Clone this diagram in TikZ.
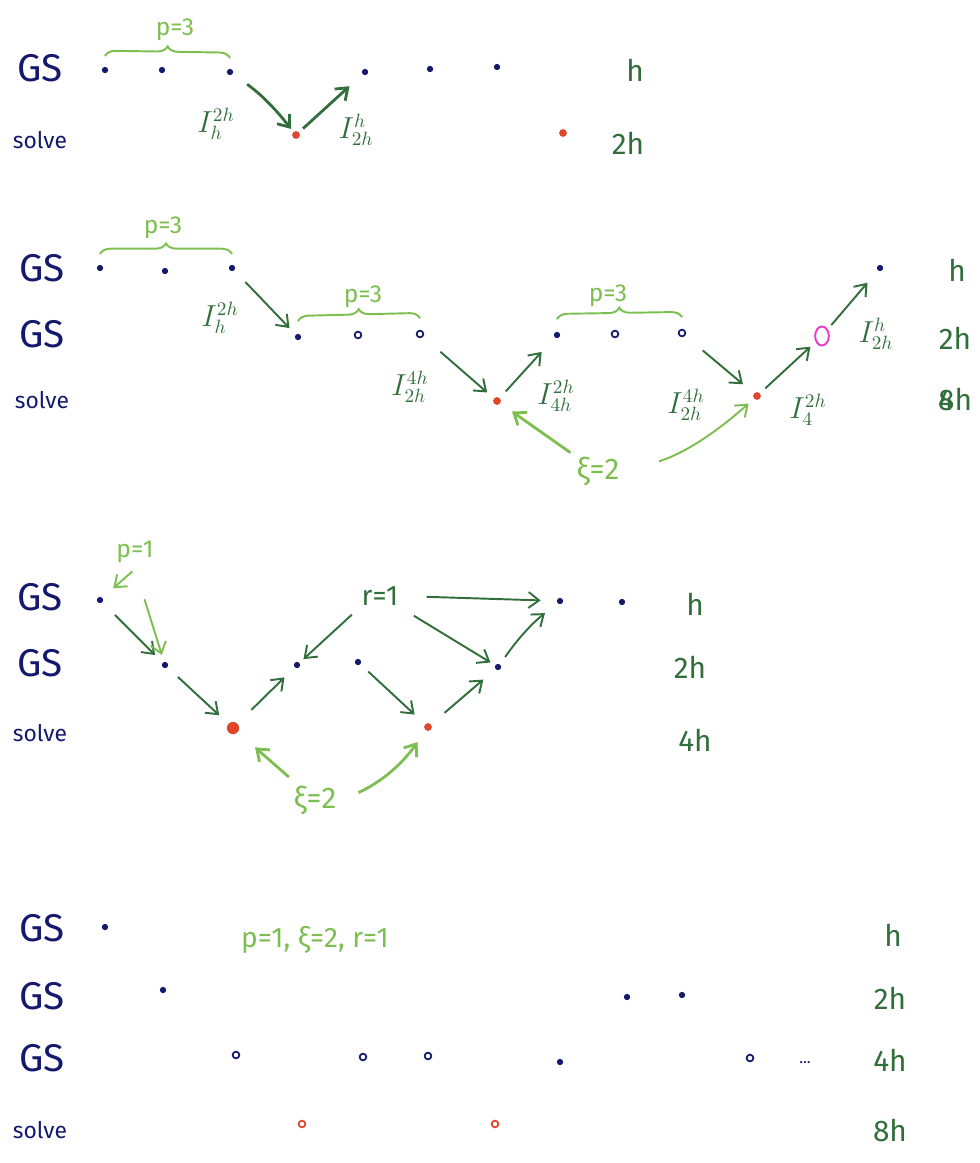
\documentclass[tikz,border=0pt]{standalone}
\usepackage{fontspec}
\setmainfont{Fira Sans}
\usepackage{tikz}
\usetikzlibrary{arrows.meta, positioning, shapes.geometric, decorations.pathreplacing}
\definecolor{gsnavy}{RGB}{20,25,110}
\definecolor{solvered}{RGB}{225,70,45}
\definecolor{opgreen}{RGB}{50,110,60}
\definecolor{parmgreen}{RGB}{125,190,80}
\definecolor{coarsepink}{RGB}{230,60,200}

\begin{document}
\begin{tikzpicture}[
    x=0.02cm, y=-0.02cm,
    lvl/.style={font=\fontsize{22}{22}\selectfont, text=gsnavy},
    slv/.style={font=\fontsize{13}{13}\selectfont, text=gsnavy},
    hlab/.style={font=\fontsize{17}{17}\selectfont, text=opgreen},
    gsdot/.style={circle, fill=gsnavy, inner sep=0pt, minimum size=3.6pt},
    gsring/.style={circle, draw=gsnavy, line width=1pt, fill=white,
                   inner sep=0pt, minimum size=3.8pt},
    sdot/.style={circle, fill=solvered, inner sep=0pt, minimum size=4.4pt},
    sring/.style={gsring, draw=solvered},
    op/.style={font=\fontsize{16}{16}\selectfont, text=opgreen, inner sep=1pt},
    prm/.style={font=\fontsize{14}{14}\selectfont, text=parmgreen},
    arrow/.style={-{Straight Barb[length=6pt,width=9pt]}, line width=1.1pt,
                  draw=opgreen},
    parrow/.style={arrow, draw=parmgreen},
    brc/.style={decorate, decoration={brace, amplitude=6pt},
                draw=parmgreen, line width=1.1pt},
  ]
  \useasboundingbox (0,0) rectangle (980,1163);

  % ---------- two levels ----------
  \node[lvl] (gsA) at (40,68) {GS};
  \node[slv] (svA) at (40,140) {solve};
  \node[hlab] (hA1) at (635,70) {h};
  \node[hlab] (hA2) at (628,143) {2h};

  \node[gsdot] (a1) at (105,70) {};
  \node[gsdot] (a2) at (162,70) {};
  \node[gsdot] (a3) at (230,72) {};
  \node[gsdot] (a4) at (365,72) {};
  \node[gsdot] (a5) at (430,69) {};
  \node[gsdot] (a6) at (497,67) {};
  \node[sdot]  (sa1) at (296,135) {};
  \node[sdot]  (sa2) at (563,133) {};

  \draw[brc] ([yshift=8pt]a1.center) -- ([yshift=8pt]a3.center);
  \node[prm] (pA) at (175,30) {p=3};

  \draw[arrow, line width=1.6pt, shorten <=10pt, shorten >=2pt, bend left=8]
    (a3) to (sa1);
  \draw[arrow, line width=1.6pt, shorten <=3pt, shorten >=10pt] (sa1) -- (a4);
  \node[op] (iA1) at (216,124) {$I_h^{2h}$};
  \node[op] (iA2) at (356,130) {$I_{2h}^{h}$};

  % ---------- three levels, p=3 ----------
  \node[lvl] (gsB1) at (42,268) {GS};
  \node[lvl] (gsB2) at (42,334) {GS};
  \node[slv] (svB) at (42,400) {solve};
  \node[hlab] (hB1) at (957,270) {h};
  \node[hlab] (hB2) at (955,338) {2h};
  \node[hlab] (hB3) at (955,400) {\rlap{4}8h};

  \node[gsdot] (b1) at (100,268) {};
  \node[gsdot] (b2) at (165,271) {};
  \node[gsdot] (b3) at (232,268) {};
  \node[gsdot] (b4) at (880,268) {};
  \node[gsdot]  (m1) at (298,337) {};
  \node[gsring] (m2) at (358,335) {};
  \node[gsring] (m3) at (420,334) {};
  \node[gsdot]  (m4) at (557,335) {};
  \node[gsring] (m5) at (615,334) {};
  \node[gsring] (m6) at (682,333) {};
  \node[ellipse, draw=coarsepink, line width=1.1pt, inner sep=0pt,
        minimum width=7.8pt, minimum height=10.8pt] (mag) at (822,336) {};
  \node[sdot] (sb1) at (497,401) {};
  \node[sdot] (sb2) at (757,396) {};

  \draw[brc] ([yshift=8pt]b1.center) -- ([yshift=8pt]b3.center);
  \draw[brc] ([yshift=9pt]m1.center) -- ([yshift=9pt]m3.center);
  \draw[brc] ([yshift=9pt]m4.center) -- ([yshift=9pt]m6.center);
  \node[prm] (pB1) at (163,228) {p=3};
  \node[prm] (pB2) at (363,297) {p=3};
  \node[prm] (pB3) at (608,296) {p=3};

  \draw[arrow, shorten <=9pt, shorten >=5pt] (b3) -- (m1);
  \draw[arrow, shorten <=13pt, shorten >=5pt] (m3) -- (sb1);
  \draw[arrow, shorten <=5pt, shorten >=11pt] (sb1) -- (m4);
  \draw[arrow, shorten <=13pt, shorten >=8pt] (m6) -- (sb2);
  \draw[arrow, shorten <=4pt, shorten >=4pt] (sb2) -- (mag);
  \draw[arrow, shorten <=3pt, shorten >=9pt] (mag) -- (b4);
  \node[op] (iB1) at (220,318) {$I_h^{2h}$};
  \node[op] (iB2) at (410,387) {$I_{2h}^{4h}$};
  \node[op] (iB3) at (556,396) {$I_{4h}^{2h}$};
  \node[op] (iB4) at (686,405) {$I_{2h}^{4h}$};
  \node[op] (iB5) at (808,410) {$I_{4}^{2h}$};
  \node[op] (iB6) at (876,334) {$I_{2h}^{h}$};

  \node[prm, font=\fontsize{17}{17}\selectfont] (zB) at (598,472) {ξ=2};
  \draw[parrow, line width=1.6pt, shorten >=8pt] (zB) -- (sb1);
  \draw[parrow, shorten <=20pt, shorten >=4pt, bend right=12] (zB.east) to (sb2);

  % ---------- three levels, p=1 ----------
  \node[lvl] (gsC1) at (40,597) {GS};
  \node[lvl] (gsC2) at (40,663) {GS};
  \node[slv] (svC) at (40,733) {solve};
  \node[hlab] (hC1) at (695,604) {h};
  \node[hlab] (hC2) at (690,667) {2h};
  \node[hlab] (hC3) at (695,740) {4h};

  \node[gsdot] (c1) at (100,600) {};
  \node[gsdot] (c2) at (560,601) {};
  \node[gsdot] (c3) at (622,602) {};
  \node[gsdot] (d1) at (165,665) {};
  \node[gsdot] (d2) at (297,665) {};
  \node[gsdot] (d3) at (358,662) {};
  \node[gsdot] (d4) at (498,667) {};
  \node[sdot, minimum size=7pt] (sc1) at (233,728) {};
  \node[sdot] (sc2) at (428,727) {};

  \draw[arrow, shorten <=10pt, shorten >=6pt] (c1) -- (d1);
  \draw[arrow, shorten <=8pt, shorten >=7pt] (d1) -- (sc1);
  \draw[arrow, shorten <=11pt, shorten >=8pt] (sc1) -- (d2);
  \draw[arrow, shorten <=6pt, shorten >=8pt] (d3) -- (sc2);
  \draw[arrow, shorten <=10pt, shorten >=9pt] (sc2) -- (d4);
  \draw[arrow, shorten <=5pt, shorten >=9pt, bend left=8] (d4) to (c2);

  \node[op] (rC) at (380,596) {r=1};
  \draw[arrow, shorten <=6pt, shorten >=3pt] (rC.south west) -- (d2);
  \draw[arrow, shorten <=15pt, shorten >=9pt] (rC.east) -- (c2);
  \draw[arrow, shorten <=9pt, shorten >=3pt] (rC.south east) -- (d4);

  \node[prm] (pC) at (135,552) {p=1};
  \draw[parrow, shorten <=2pt, shorten >=8pt] (pC.south) -- (c1);
  \draw[parrow, shorten <=18pt, shorten >=4pt] (pC.south) -- (d1);

  \node[prm, font=\fontsize{17}{17}\selectfont] (zC) at (315,800) {ξ=2};
  \draw[parrow, line width=1.6pt, shorten <=2pt, shorten >=13pt] (zC) -- (sc1);
  \draw[parrow, line width=1.6pt, shorten <=10pt, shorten >=8pt, bend right=15]
    (zC.east) to (sc2);

  % ---------- four levels ----------
  \node[lvl] (gsD1) at (42,928) {GS};
  \node[lvl] (gsD2) at (42,996) {GS};
  \node[lvl] (gsD3) at (42,1058) {GS};
  \node[slv] (svD) at (40,1130) {solve};
  \node[hlab] (hD1) at (893,935) {h};
  \node[hlab] (hD2) at (890,998) {2h};
  \node[hlab] (hD3) at (890,1060) {4h};
  \node[hlab] (hD4) at (890,1130) {8h};

  \node[gsdot] (e1) at (105,927) {};
  \node[gsdot] (f1) at (163,990) {};
  \node[gsdot] (f2) at (627,997) {};
  \node[gsdot] (f3) at (682,995) {};
  \node[gsring] (g1) at (236,1055) {};
  \node[gsring] (g2) at (363,1057) {};
  \node[gsring] (g3) at (428,1056) {};
  \node[gsdot]  (g4) at (560,1062) {};
  \node[gsring] (g5) at (750,1058) {};
  \node[text=gsnavy, font=\small] (gdots) at (805,1063) {...};
  \node[sring] (sd1) at (302,1124) {};
  \node[sring] (sd2) at (495,1124) {};

  \node[prm, font=\fontsize{16}{16}\selectfont] (pD) at (315,940) {p=1, ξ=2, r=1};

\end{tikzpicture}
\end{document}
